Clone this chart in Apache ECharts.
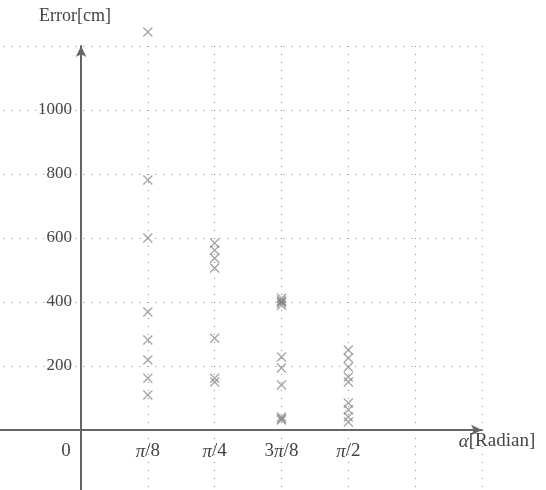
<!DOCTYPE html>
<html>
<head>
<meta charset="utf-8">
<script src="https://cdn.jsdelivr.net/npm/echarts@6/dist/echarts.min.js"></script>
<style>
    html, body { margin: 0; padding: 0; background: #fff; }
    #chart { width: 546px; height: 490px; }
</style>
</head>
<body>
<div id="chart"></div>
<script>
// x in units of pi/8
var xTickLabels = ['0', 'π/8', 'π/4', '3π/8', 'π/2']
var yTickLabels = ['200', '400', '600', '800', '1000']

var errPi8 = [1244, 781, 600, 369, 281, 219, 162, 109]
var errPi4 = [584, 562, 537, 506, 287, 162, 150]
var err3Pi8 = [412, 405, 400, 398, 390, 228, 194, 141, 41, 35, 31]
var errPi2 = [250, 225, 197, 166, 150, 84, 63, 41, 25]

var columns = [
    [1, errPi8],
    [2, errPi4],
    [3, err3Pi8],
    [4, errPi2],
]

var points = []
columns.forEach(function (c) {
    c[1].forEach(function (v) {
        points.push([c[0], v])
    })
})

var serif = '"Liberation Serif", "DejaVu Serif", serif'
var gridColor = '#8a8a8a'
var textColor = '#444'
var crossPath = 'path://M0,1L1,0L5,4L9,0L10,1L6,5L10,9L9,10L5,6L1,10L0,9L4,5Z'

// pi drawn in italic like in the reference
function piLabel(s) {
    return s.replace('π', '{i|π}')
}

var chart = echarts.init(document.getElementById('chart'))
chart.setOption({
    animation: false,
    grid: [
        // wide grid: dotted lines and the crossing axes
        { left: -52.6, right: 64, top: 46, bottom: -4, outerBoundsMode: 'none' },
        // plot grid: labels and data
        { left: 81, right: 64, top: 46, bottom: 60, outerBoundsMode: 'none' },
    ],
    xAxis: [
        {
            gridIndex: 0,
            type: 'value',
            min: -2,
            max: 6,
            interval: 1,
            axisLine: {
                onZero: true,
                symbol: ['none', 'arrow'],
                symbolSize: [8, 11],
                lineStyle: { color: '#666', width: 2 },
            },
            axisTick: { show: false },
            axisLabel: { show: false },
            splitLine: {
                show: true,
                lineStyle: {
                    color: ['transparent', 'transparent', gridColor, gridColor, gridColor, gridColor, gridColor, gridColor, gridColor],
                    type: [1, 7],
                    width: 1,
                },
            },
        },
        {
            gridIndex: 1,
            type: 'value',
            min: 0,
            max: 6,
            interval: 1,
            name: '{i|α}[Radian]',
            nameLocation: 'end',
            nameGap: 0,
            nameTextStyle: {
                fontFamily: serif,
                fontSize: 19,
                color: textColor,
                align: 'center',
                verticalAlign: 'top',
                padding: [2, 0, 0, 30],
                rich: {
                    i: { fontFamily: serif, fontSize: 19, fontStyle: 'italic', color: textColor },
                },
            },
            axisLine: { show: false },
            axisTick: { show: false },
            splitLine: { show: false },
            axisLabel: {
                margin: 12,
                fontFamily: serif,
                fontSize: 19,
                color: textColor,
                showMinLabel: true,
                formatter: function (v) {
                    if (v === 0) return '{o|' + xTickLabels[0] + '}'
                    return xTickLabels[v] ? piLabel(xTickLabels[v]) : ''
                },
                rich: {
                    o: {
                        fontFamily: serif,
                        fontSize: 19,
                        color: textColor,
                        padding: [0, 30, 0, 0],
                    },
                    i: { fontFamily: serif, fontSize: 19, fontStyle: 'italic', color: textColor },
                },
            },
        },
    ],
    yAxis: [
        {
            gridIndex: 0,
            type: 'value',
            min: -200,
            max: 1200,
            interval: 200,
            axisLine: {
                onZero: true,
                symbol: ['none', 'arrow'],
                symbolSize: [8, 11],
                lineStyle: { color: '#666', width: 2 },
            },
            axisTick: { show: false },
            axisLabel: { show: false },
            splitLine: {
                show: true,
                lineStyle: {
                    color: gridColor,
                    type: [1, 7],
                    width: 1,
                },
            },
        },
        {
            gridIndex: 1,
            type: 'value',
            min: 0,
            max: 1200,
            interval: 200,
            name: 'Error[cm]',
            nameLocation: 'end',
            nameGap: 21,
            nameTextStyle: {
                fontFamily: serif,
                fontSize: 18,
                color: textColor,
                padding: [0, 12, 0, 0],
            },
            axisLine: { show: false },
            axisTick: { show: false },
            splitLine: { show: false },
            axisLabel: {
                margin: 9,
                fontFamily: serif,
                fontSize: 17,
                color: textColor,
                formatter: function (v) {
                    return yTickLabels.indexOf(String(v)) >= 0 ? String(v) : ''
                },
            },
        },
    ],
    series: [
        {
            type: 'scatter',
            xAxisIndex: 1,
            yAxisIndex: 1,
            data: points,
            clip: false,
            symbol: crossPath,
            symbolSize: 10,
            itemStyle: {
                color: '#7a7a7a',
                opacity: 0.65,
            },
        },
    ],
})
</script>
</body>
</html>
